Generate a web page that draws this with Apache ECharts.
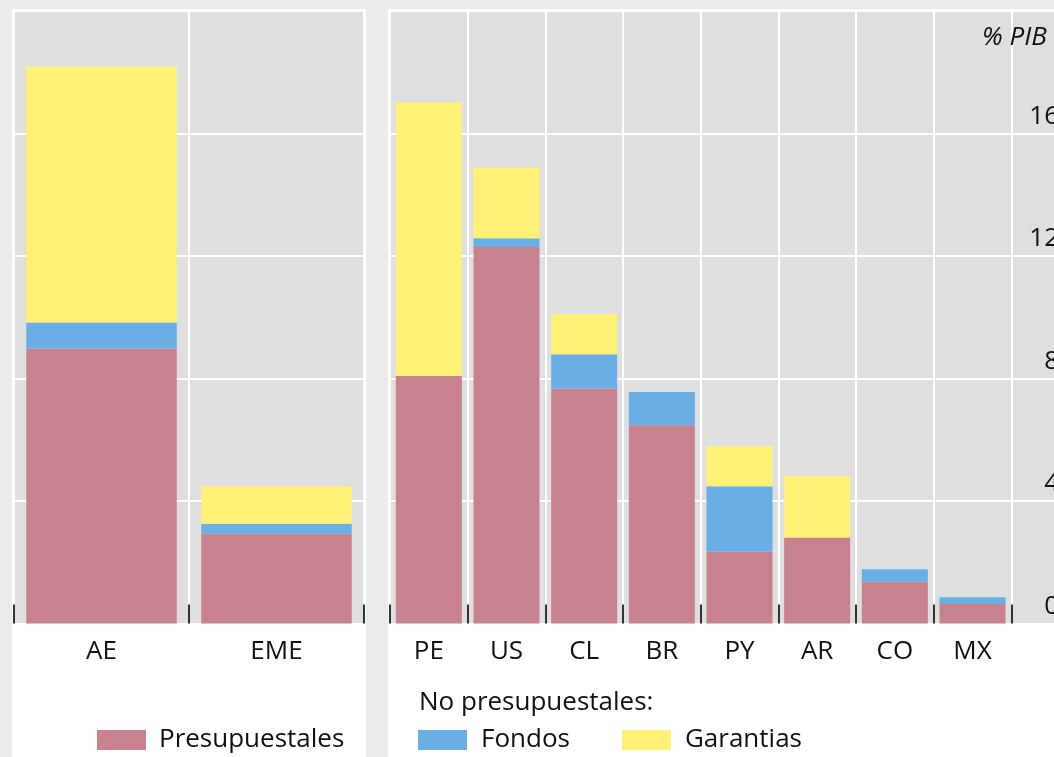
<!DOCTYPE html>
<html>
<head>
<meta charset="utf-8">
<script src="https://cdn.jsdelivr.net/npm/echarts@6/dist/echarts.min.js"></script>
<style>
  html, body { margin: 0; padding: 0; overflow: hidden; background: #ebebeb; }
  #main { width: 1090px; height: 757px; }
</style>
</head>
<body>
<div id="main"></div>
<script>
// averages (left panel) and countries (right panel), % of GDP
const groupCats = ['AE', 'EME'];
const groupPresup = [8.98, 2.93];
const groupFondos = [0.85, 0.33];
const groupGarant = [8.36, 1.22];

const countryCats = ['PE', 'US', 'CL', 'BR', 'PY', 'AR', 'CO', 'MX'];
const countryPresup = [8.08, 12.29, 7.67, 6.47, 2.34, 2.81, 1.36, 0.64];
const countryFondos = [0, 0.29, 1.12, 1.09, 2.14, 0, 0.41, 0.22];
const countryGarant = [8.93, 2.29, 1.32, 0, 1.31, 2.01, 0, 0];

const yMin = 0, yMax = 20, yStep = 4;

const font = '"Open Sans", "Noto Sans", sans-serif';
const fs = 26;
const colPresup = '#c8828f';
const colFondos = '#69afe5';
const colGarant = '#fff176';

const chart = echarts.init(document.getElementById('main'));

function xAxisFor(idx, cats) {
  return {
    type: 'category',
    gridIndex: idx,
    data: cats,
    axisLine: { show: false },
    axisTick: { show: true, inside: true, length: 19, lineStyle: { color: '#333', width: 2 } },
    axisLabel: { color: '#111', fontSize: fs, fontFamily: font, margin: 15 },
    splitLine: { show: true, lineStyle: { color: '#fff', width: 2 } }
  };
}

function yAxisFor(idx, withLabels) {
  return {
    type: 'value',
    gridIndex: idx,
    min: yMin,
    max: yMax,
    interval: yStep,
    position: 'right',
    axisLine: { show: false },
    axisTick: { show: false },
    axisLabel: {
      show: withLabels,
      inside: true,
      showMaxLabel: false,
      margin: 30,
      align: 'right',
      verticalAlign: 'bottom',
      padding: [0, 0, 4, 0],
      color: '#111',
      fontSize: fs,
      fontFamily: font
    },
    splitLine: { show: true, lineStyle: { color: '#fff', width: 2 } }
  };
}

function bars(name, data, color, idx, gap) {
  return {
    name: name,
    type: 'bar',
    stack: 'g' + idx,
    xAxisIndex: idx,
    yAxisIndex: idx,
    data: data,
    barCategoryGap: gap,
    itemStyle: { color: color },
    emphasis: { disabled: true }
  };
}

chart.setOption({
  backgroundColor: '#ebebeb',
  animation: false,
  graphic: [
    { type: 'rect', z: -10, shape: { x: 12, y: 9, width: 354, height: 760 }, style: { fill: '#fff' } },
    { type: 'rect', z: -10, shape: { x: 388, y: 9, width: 720, height: 760 }, style: { fill: '#fff' } }
  ],
  title: [
    {
      text: '% PIB', left: 977, top: 20,
      textStyle: { fontSize: fs, fontStyle: 'italic', fontWeight: 'normal', color: '#111', fontFamily: font }
    },
    {
      text: 'No presupuestales:', left: 414, top: 685,
      textStyle: { fontSize: fs, fontWeight: 'normal', color: '#111', fontFamily: font }
    }
  ],
  legend: [
    {
      data: ['Presupuestales'], left: 92, top: 722,
      itemWidth: 49, itemHeight: 20, icon: 'rect',
      textStyle: { fontSize: fs, color: '#111', fontFamily: font, padding: [0, 0, 0, 8] }
    },
    {
      data: ['Fondos', 'Garantias'], left: 413, top: 722,
      itemWidth: 49, itemHeight: 20, itemGap: 52, icon: 'rect',
      textStyle: { fontSize: fs, color: '#111', fontFamily: font, padding: [0, 0, 0, 9] }
    }
  ],
  grid: [
    { left: 14, top: 11, width: 350, height: 612.5, show: true, backgroundColor: '#dfdfdf', borderWidth: 0 },
    { left: 390, top: 11, width: 699, height: 612.5, show: true, backgroundColor: '#dfdfdf', borderWidth: 0 }
  ],
  xAxis: [
    xAxisFor(0, groupCats),
    xAxisFor(1, countryCats.concat(['']))
  ],
  yAxis: [
    yAxisFor(0, false),
    yAxisFor(1, true)
  ],
  series: [
    bars('Presupuestales', groupPresup, colPresup, 0, '14%'),
    bars('Fondos', groupFondos, colFondos, 0, '14%'),
    bars('Garantias', groupGarant, colGarant, 0, '14%'),
    bars('Presupuestales', countryPresup, colPresup, 1, '15%'),
    bars('Fondos', countryFondos, colFondos, 1, '15%'),
    bars('Garantias', countryGarant, colGarant, 1, '15%')
  ]
});
</script>
</body>
</html>
